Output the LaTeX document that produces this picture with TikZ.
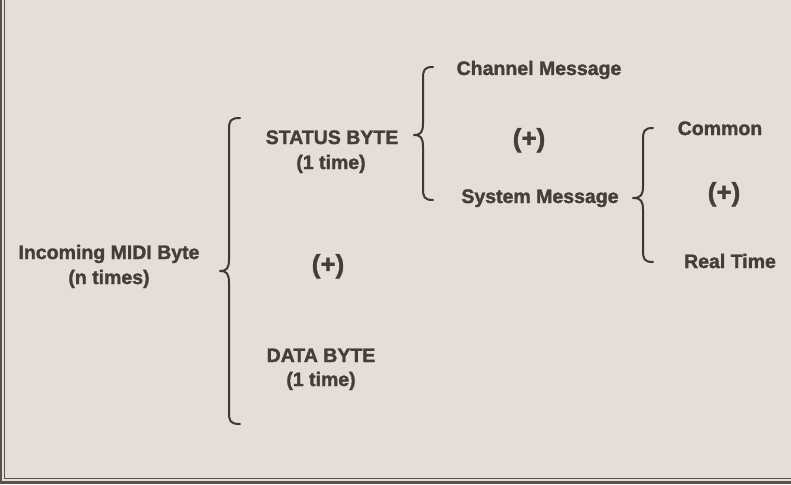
\documentclass[tikz,border=0pt]{standalone}
\usepackage{fontspec}
\newfontfamily\labfont{Liberation Sans}[BoldFeatures={FakeBold=1.6}]
\definecolor{bgpaper}{HTML}{E5DED7}
\definecolor{inktext}{HTML}{473D38}
\definecolor{inkline}{HTML}{3E3631}
\definecolor{frameline}{HTML}{5A524D}
\newcommand{\bracedraw}[7]{% end-x, vertical-x, tip-x, top-y, mid-y, bottom-y, name
  \draw[bracestyle] (#1,#4) .. controls (#2+1,#4) and (#2,#4+3) .. (#2,#4+12)
    -- (#2,#5-12) .. controls (#2,#5-3) and (#2-2,#5) .. (#3,#5)
    .. controls (#2-2,#5) and (#2,#5+3) .. (#2,#5+12)
    -- (#2,#6-12) .. controls (#2,#6-3) and (#2+1,#6) .. (#1,#6);
  \coordinate (#7) at (#3,#5);
}
\begin{document}
\begin{tikzpicture}[x=1pt,y=-1pt,
  lab/.style={inktext,font=\labfont\bfseries\fontsize{19.5}{24}\selectfont,inner sep=0pt,anchor=base},
  plus/.style={inktext,font=\labfont\bfseries\fontsize{26}{30}\selectfont,inner sep=0pt,anchor=base},
  bracestyle/.style={inkline,line width=2pt,line cap=round,line join=round}]
\fill[bgpaper] (0,0) rectangle (791,484);
\useasboundingbox (0,0) rectangle (791,484);
% frame
\draw[frameline,line width=2.2pt] (1.2,0) -- (1.2,484);
\draw[frameline,line width=1.1pt] (4.6,0) -- (4.6,478.5);
\draw[frameline,line width=2.2pt] (0,482.5) -- (791,482.5);
\draw[frameline,line width=0.9pt] (4.6,478.5) -- (791,478.5);
% labels
\node[lab] (inc1) at (109,259) {Incoming MIDI Byte};
\node[lab] (inc2) at (109,284) {(n times)};
\node[lab] (st1) at (332,144) {STATUS BYTE};
\node[lab] (st2) at (331,169) {(1 time)};
\node[plus] (p1) at (328,273) {(+)};
\node[lab] (db1) at (321,362) {DATA BYTE};
\node[lab] (db2) at (321,386) {(1 time)};
\node[lab] (ch) at (539,75) {Channel Message};
\node[plus] (p2) at (529,147) {(+)};
\node[lab] (sys) at (540,203) {System Message};
\node[lab] (com) at (720,135) {Common};
\node[plus] (p3) at (724,201) {(+)};
\node[lab] (rt) at (730,268) {Real Time};
% braces
\bracedraw{240}{229}{220}{118}{271}{424}{b1}
\bracedraw{433}{423}{414}{67}{135}{200}{b2}
\bracedraw{653}{643}{633}{128}{198}{262}{b3}
\end{tikzpicture}
\end{document}
